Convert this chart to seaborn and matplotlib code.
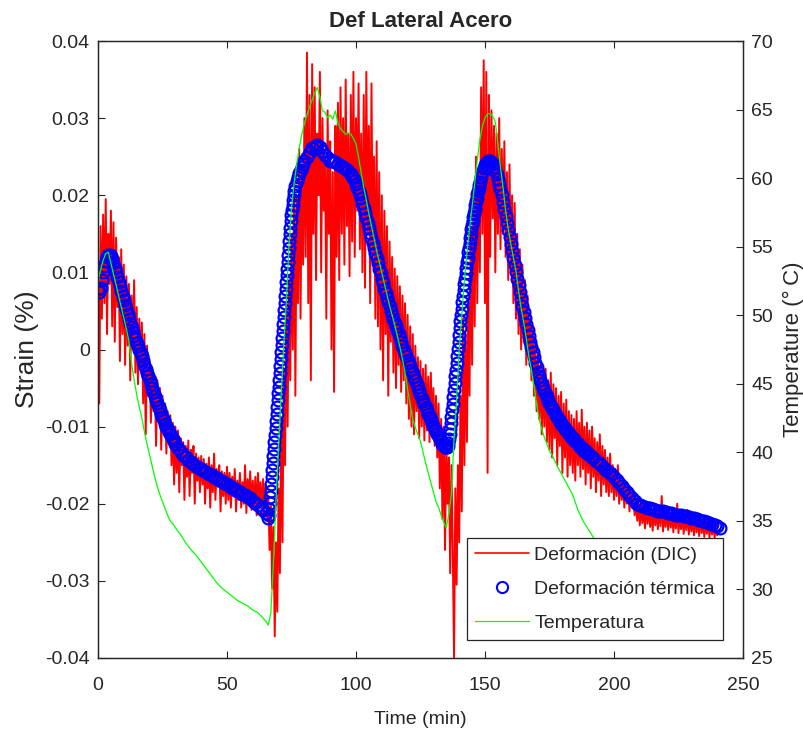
import numpy as np
import matplotlib
matplotlib.use("Agg")
import matplotlib.pyplot as plt
import seaborn as sns
from matplotlib.lines import Line2D

# ---------------- data ----------------
TITLE = "Def Lateral Acero"
X_LABEL = "Time (min)"
Y_LABEL_LEFT = "Strain (%)"
Y_LABEL_RIGHT = "Temperature (°\u2009C)"
LEGEND_LABELS = ["Deformación (DIC)", "Deformación térmica", "Temperatura"]

X_TICKS = [0, 50, 100, 150, 200, 250]
STRAIN_TICKS = [-0.04, -0.03, -0.02, -0.01, 0, 0.01, 0.02, 0.03, 0.04]
STRAIN_TICK_LABELS = ["-0.04", "-0.03", "-0.02", "-0.01", "0", "0.01", "0.02", "0.03", "0.04"]
TEMP_TICKS = [25, 30, 35, 40, 45, 50, 55, 60, 65, 70]

# DIC strain, sampled every 0.5 min from t = 0, values in units of 1e-4
DIC_STEP_MIN = 0.5
DIC_E4 = [
    95, -70, 160, 40, 175, 60, 195, 20, 150, 85, 180, 30, 165, 10, 145, 55, 120, -15, 130, 20, 110,
    -20, 95, 5, 85, -40, 70, 0, 90, -30, 55, -45, 40, -20, 35, -70, 20, -110, 5, -60, -15,
    -95, -25, -80, -35, -125, -40, -90, -50, -130, -60, -110, -70, -135, -80, -120, -85, -150, -95, -175, -100,
    -160, -105, -185, -115, -150, -120, -195, -125, -165, -118, -190, -130, -160, -125, -200, -135, -170, -140, -185, -138,
    -175, -142, -200, -148, -180, -140, -205, -150, -185, -135, -195, -155, -178, -150, -210, -158, -190, -160, -200, -152,
    -195, -160, -205, -165, -190, -155, -210, -170, -195, -160, -205, -172, -200, -150, -212, -168, -195, -158, -208, -170,
    -205, -165, -215, -160, -200, -172, -212, -168, -205, -175, -218, -190,
    -260, -200, -310, -230, -372, -250, -340, -180, -290, -90, -250, -30, -150, 60, -100, 90, -40, 150, 0, 220,
    -60, 200, 60, 260, 40, 240, 110, 300,
    120, 385, 60, 330, -40, 370, 150, 340, 90, 280, 200, 360, 100, 300, 180, 250, 40, 310, 150, 270, 0, 230, -55, 290,
    120, 320, 90, 340, 150, 300, 110, 350, 160, 280, 95, 330, 140, 360, 120, 300, 180, 345, 130, 280, 100, 330,
    80, 360, 150, 290, 60, 345, 120, 250, 40, 270,
    30, 230, 0, 200, -40, 180, 20, 160, -60, 140, 10, 120, -30, 105, -50, 95, -20, 82, -55, 70, -40, 60, -70, 45,
    -90, 30, -100, 20, -110, 5, -80, -10, -115, -15, -100, -25, -118, -20, -105, -35, -120, -30, -110, -50,
    -125, -60, -140, -70, -180, -90, -220, -100, -260, -120,
    -200, -140, -290, -150, -260, -400, -180, -305, -150, -250, -60, -210, 40, -150, 20, -120, 60, -60, 150, -20,
    200, 30, 250, 60, 230, 100,
    340, 150, 375, 60, 360, -160, 330, 120, 310, 170, 290, 100, 280, 150, 300, 130,
    260, 150, 270, 120, 230, 90, 240, 100, 200, 60, 190, 40, 150, 20, 130, 0, 110, 10, 90, -20, 70, -10, 40, -40,
    30, -60, 10, -80, -5, -90, -20, -110, -30, -100, -25, -120, -40, -130, -30, -140, -45, -115, -50, -150,
    -60, -125, -55, -160, -70, -140, -65, -165, -80, -150,
    -85, -160, -90, -170, -80, -150, -95, -165, -78, -155, -100, -175, -95, -160, -105, -180, -100, -165, -115, -185,
    -120, -170, -110, -190, -125, -175,
    -130, -185, -140, -190, -135, -185, -150, -195, -155, -190, -150, -200, -165, -195, -170, -205, -175, -200, -180, -210,
    -185, -205, -190, -215,
    -195, -222, -200, -228, -198, -225, -205, -232, -200, -226, -203, -230, -207, -235, -202, -228, -208, -233, -205, -229,
    -190, -236, -210, -230, -206, -234, -211, -231, -208, -237, -212, -232, -200, -238, -213, -233, -210, -239, -214, -234,
    -208, -240, -215, -236, -217, -241, -212, -237, -218, -242, -216, -238, -220, -243, -219, -239, -221, -244, -222, -240,
    -223, -245, -224, -241,
]

# thermal strain: time blocks (start, end, step) in minutes and values in units of 1e-4
THERM_TIME_BLOCKS = [(0, 5, 0.5), (5.5, 30, 0.5), (31, 66, 1), (66.2, 76, 0.2), (76.5, 80, 0.5),
                     (81, 98, 1), (98.5, 135, 0.5), (135.25, 148, 0.25), (148.5, 168, 0.5),
                     (168.5, 190, 0.5), (191, 241, 1)]
THERM_E4 = [
    78, 74, 80, 90, 100, 108, 115, 120, 123, 123, 121,
    117, 112, 106, 100, 94, 88, 82, 76, 70, 64, 58, 52, 46, 40, 34, 29, 23, 18, 13, 9,
    4, 0, -4, -9, -14, -20, -25, -30, -35, -40, -45, -50, -55, -60, -65, -69, -74, -79, -84, -88,
    -92, -96, -100, -103, -107, -110, -113, -116, -119, -122,
    -128, -133, -137, -140, -143, -146, -148, -151, -153, -155, -157, -159, -161, -163, -165, -167, -169, -171,
    -173, -175, -177, -179, -181, -183, -185, -187, -189, -191, -193, -196, -199, -202, -205, -208, -212, -218,
    -214, -207, -199, -191, -183, -174, -165, -156, -147, -138, -129, -120, -111, -102, -93, -84, -75, -66, -57, -48,
    -39, -30, -21, -12, -3, 6, 15, 24, 33, 42, 51, 60, 69, 78, 87, 96, 105, 114, 123, 132,
    141, 150, 158, 166, 174, 181, 188, 194, 200, 205,
    212, 218, 224, 229, 233, 237, 241, 244,
    250, 256, 261, 264, 265, 263, 258, 252, 248, 245, 244, 243, 241, 238, 236, 234, 231, 228,
    225, 222, 218, 214, 210, 206, 201, 196, 190, 183, 177, 170, 164, 157, 151, 144, 138, 131, 125, 118,
    112, 105, 99, 92, 86, 79, 73, 67, 61, 56, 50, 45, 40, 35, 30, 25, 20, 15, 10, 5,
    0, -4, -9, -13, -18, -22, -27, -31, -36, -40, -45, -49, -54, -58, -63, -67, -71, -75, -79, -83,
    -87, -91, -95, -99, -103, -106, -110, -113, -116, -119, -122, -124, -126, -127,
    -127, -125, -121, -116, -110, -103, -95, -87, -79, -71, -62, -53, -44, -35, -26, -17, -8, 1, 10, 19,
    28, 37, 45, 53, 61, 69, 77, 85, 92, 99, 106, 113, 119, 126, 132, 138, 144, 150, 156, 161,
    167, 172, 177, 182, 187, 192, 196, 201, 205, 209, 213, 217,
    224, 230, 235, 239, 242, 244, 245, 245, 243, 240, 236, 232, 227, 221, 215, 208, 200, 191, 182, 173,
    164, 155, 146, 137, 128, 119, 110, 101, 92, 83, 74, 65, 57, 49, 41, 33, 25, 17, 10, 3,
    -3, -10, -17, -23, -29, -35, -40, -45, -50, -54, -58, -62, -66, -69, -73, -76, -79, -82, -85, -88,
    -91, -93, -96, -98, -101, -103, -105, -107, -109, -111, -113, -115, -117, -119, -121, -122, -124, -126, -128, -129,
    -131, -132, -134, -135,
    -138, -141, -144, -147, -150, -153, -156, -159, -162, -165, -169, -173, -177, -181, -185, -189, -193, -197, -200, -202,
    -203, -204, -205, -206, -207, -208, -209, -209, -210, -211, -212, -212, -213, -214, -215, -215, -216, -216, -217, -218,
    -219, -220, -221, -222, -223, -224, -225, -226, -227, -229, -231,
]

# temperature (right axis)
TEMP_TIME = [0, 1, 2, 3, 4, 5, 6, 7, 8, 9, 10, 11, 12, 13, 14, 15, 16, 17, 18, 19, 20,
             21, 22, 23, 24, 25, 26, 27, 28, 29, 30, 32, 34, 36, 38, 40, 42, 44, 46, 48, 50,
             52, 54, 56, 58, 60, 62, 64, 65, 66, 67, 68, 69, 70, 71, 72, 73, 74, 75, 76, 77,
             78, 79, 80, 81, 82, 83, 84, 85, 86, 87, 88, 89, 90, 91, 92, 93, 94, 95, 96, 97,
             98, 99, 100, 101, 102, 103, 104, 105, 106, 107, 108, 109, 110, 111, 112, 113, 114, 115, 116, 117,
             118, 119, 120, 121, 122, 123, 124, 125, 126, 127, 128, 129, 130, 131, 132, 133, 134, 135, 136, 137,
             138, 139, 140, 141, 142, 143, 144, 145, 146, 147, 148, 149, 150, 151, 152, 153, 154, 155, 156, 157,
             158, 159, 160, 161, 162, 163, 164, 165, 166, 167, 168, 169, 170, 171, 172, 173, 174, 175, 176, 178,
             180, 182, 184, 186, 188, 190, 192, 195, 200, 205, 210, 215, 220, 225, 230, 235, 240]
TEMP_C = [52.5, 53.3, 54.0, 54.5, 54.6, 53.8, 53.0, 52.2, 51.4, 50.6, 49.8, 49.0, 48.1, 46.5, 45.3, 44.2, 43.3, 42.5, 41.5, 40.6, 39.8,
          39.0, 38.2, 37.5, 36.9, 36.4, 35.9, 35.4, 35.0, 34.8, 34.5, 34.0, 33.4, 32.9, 32.5, 32.0, 31.5, 31.0, 30.5, 30.1, 29.8,
          29.5, 29.2, 29.0, 28.8, 28.5, 28.3, 27.9, 27.7, 27.4, 28.3, 32.0, 36.5, 40.5, 44.3, 47.8, 51.0, 55.0, 57.8, 59.6, 61.0,
          62.2, 63.2, 64.0, 64.6, 65.2, 65.7, 66.2, 66.6, 65.9, 64.9, 64.8, 64.4, 64.6, 64.3, 64.9, 64.0, 63.6, 63.4, 63.2, 63.3,
          63.2, 62.9, 62.5, 61.5, 60.4, 59.3, 58.4, 57.4, 56.5, 55.6, 54.7, 53.9, 53.1, 52.3, 51.5, 50.7, 50.0, 49.3, 48.5, 47.7,
          46.8, 45.8, 44.6, 43.5, 42.4, 41.8, 41.3, 40.8, 40.0, 39.2, 38.5, 37.8, 37.1, 36.4, 36.0, 35.4, 34.9, 34.5, 35.5, 37.0,
          41.0, 43.8, 47.5, 50.0, 52.5, 54.5, 56.3, 57.9, 59.6, 61.3, 62.8, 63.8, 64.4, 64.7, 64.7, 64.5, 64.1, 62.5, 60.8, 59.3,
          57.6, 56.3, 55.2, 54.2, 53.2, 51.8, 50.5, 49.5, 48.3, 47.0, 46.0, 44.8, 43.5, 42.4, 41.7, 41.1, 40.6, 40.1, 39.8, 39.0,
          38.3, 37.6, 36.9, 35.8, 35.0, 34.4, 33.8, 32.8, 31.5, 30.5, 29.8, 29.2, 28.7, 28.3, 28.0, 27.7, 27.4]

# ---------------- build series ----------------
dic_time = np.arange(len(DIC_E4)) * DIC_STEP_MIN
dic_strain = np.array(DIC_E4) / 1e4
therm_time = np.concatenate([np.round(np.arange(a, b + s / 2, s), 2) for a, b, s in THERM_TIME_BLOCKS])
therm_strain = np.array(THERM_E4) / 1e4
assert len(therm_time) == len(therm_strain), (len(therm_time), len(therm_strain))
assert len(TEMP_TIME) == len(TEMP_C), (len(TEMP_TIME), len(TEMP_C))

# ---------------- style ----------------
sns.set_theme(style="white")
plt.rcParams["font.family"] = ["Liberation Sans", "DejaVu Sans"]
plt.rcParams["axes.unicode_minus"] = False
TXT = "#262626"

W, H = 804, 735
fig = plt.figure(figsize=(W / 100, H / 100), dpi=100)
L, R, T, B = 98, 743, 41, 658
ax = fig.add_axes([L / W, 1 - B / H, (R - L) / W, (B - T) / H])
ax2 = ax.twinx()

sns.lineplot(x=dic_time, y=dic_strain, ax=ax, color="#ff0000", lw=1.4,
             estimator=None, sort=False, legend=False)
sns.lineplot(x=therm_time, y=therm_strain, ax=ax, estimator=None, sort=False, legend=False,
             linestyle="none", marker="o", markersize=8.5, markerfacecolor="none",
             markeredgecolor="#0000ff", markeredgewidth=1.6, color="#0000ff")
sns.lineplot(x=TEMP_TIME, y=TEMP_C, ax=ax2, color="#00ff00", lw=0.9,
             estimator=None, sort=False, legend=False)

ax.set_xlim(0, 250)
ax.set_ylim(-0.04, 0.04)
ax2.set_ylim(25, 70)
ax.set_xticks(X_TICKS, labels=[str(v) for v in X_TICKS])
ax.set_yticks(STRAIN_TICKS, labels=STRAIN_TICK_LABELS)
ax2.set_yticks(TEMP_TICKS, labels=[str(v) for v in TEMP_TICKS])

for a in (ax, ax2):
    for sp in a.spines.values():
        sp.set_visible(True)
        sp.set_color(TXT)
        sp.set_linewidth(0.9)
ax.tick_params(axis="x", direction="in", top=True, bottom=True, length=5, width=0.8,
               labelsize=14, pad=14, colors=TXT)
ax.tick_params(axis="y", direction="in", left=True, right=False, length=5, width=0.8,
               labelsize=14, pad=6, colors=TXT)
ax2.tick_params(axis="y", direction="in", right=True, left=False, length=5, width=0.8,
                labelsize=14, pad=6, colors=TXT)

ax.set_xlabel(X_LABEL, fontsize=14, color=TXT)
ax.xaxis.set_label_coords(0.5, -(720 - B) / (B - T))
ax.xaxis.label.set_va("center")
ax.set_ylabel(Y_LABEL_LEFT, fontsize=19, color=TXT)
ax.yaxis.set_label_coords((27 - L) / (R - L), 0.5)
ax.yaxis.label.set_va("center")
ax2.set_ylabel(Y_LABEL_RIGHT, fontsize=16, color=TXT, rotation=90)
ax2.yaxis.set_label_coords((793 - L) / (R - L), 0.5)
ax2.yaxis.label.set_va("center")

ax.set_title(TITLE, fontsize=16, fontweight="bold", color=TXT, pad=10)

handles = [Line2D([], [], color="#ff0000", lw=1.2),
           Line2D([], [], ls="none", marker="o", ms=8, mfc="none", mec="#0000ff", mew=1.5),
           Line2D([], [], color="#00ff00", lw=0.9)]
leg = ax2.legend(handles, LEGEND_LABELS, loc="lower right",
                 bbox_to_anchor=((723 - L) / (R - L), (B - 640) / (B - T)),
                 borderaxespad=0, fontsize=14, frameon=True, fancybox=False, framealpha=1,
                 edgecolor=TXT, handlelength=2.8, handletextpad=0.25, labelspacing=0.85,
                 borderpad=0.42)
leg.get_frame().set_linewidth(0.9)
for t in leg.get_texts():
    t.set_color(TXT)

fig.savefig("out.png", dpi=100)
